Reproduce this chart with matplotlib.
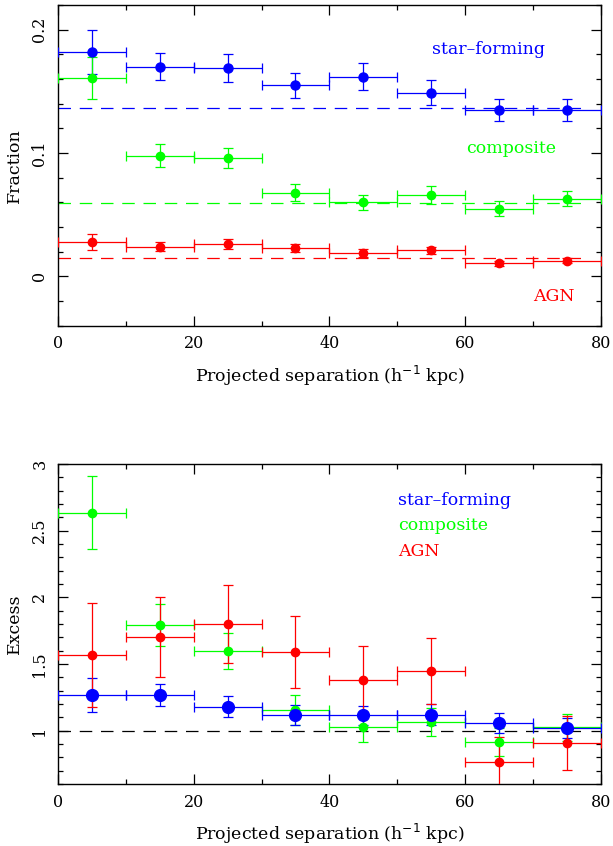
import numpy as np
import matplotlib.pyplot as plt
from matplotlib.ticker import MultipleLocator

plt.rcParams['font.family'] = 'DejaVu Serif'

# projected separation bins (centres, half width)
sep = np.array([5, 15, 25, 35, 45, 55, 65, 75])
sep_err = 5

# fractions
frac_sf = [0.182, 0.170, 0.169, 0.155, 0.162, 0.149, 0.135, 0.135]
frac_sf_err = [0.018, 0.011, 0.011, 0.010, 0.011, 0.010, 0.009, 0.009]
frac_comp = [0.161, 0.098, 0.096, 0.068, 0.060, 0.066, 0.055, 0.063]
frac_comp_err = [0.017, 0.009, 0.008, 0.007, 0.006, 0.007, 0.006, 0.006]
frac_agn = [0.028, 0.024, 0.026, 0.023, 0.019, 0.021, 0.0105, 0.0127]
frac_agn_err = [0.0065, 0.0035, 0.004, 0.0035, 0.003, 0.003, 0.002, 0.002]
# field fractions (dashed lines)
field_sf = 0.1366
field_comp = 0.0597
field_agn = 0.0148

# excess
exc_sf = [1.267, 1.267, 1.18, 1.12, 1.115, 1.12, 1.058, 1.02]
exc_sf_err = [0.125, 0.085, 0.077, 0.075, 0.072, 0.078, 0.075, 0.075]
exc_comp = [2.635, 1.792, 1.597, 1.155, 1.025, 1.065, 0.915, 1.025]
exc_comp_err = [0.275, 0.16, 0.135, 0.115, 0.11, 0.108, 0.105, 0.10]
exc_agn = [1.567, 1.702, 1.80, 1.592, 1.382, 1.447, 0.768, 0.908]
exc_agn_err = [0.39, 0.30, 0.29, 0.27, 0.25, 0.25, 0.185, 0.205]

blue = (0, 0, 1)
green = (0, 1, 0)
red = (1, 0, 0)

fig = plt.figure(figsize=(6.13, 8.46), dpi=100)
ax1 = fig.add_axes([0.0946, 0.615, 0.8854, 0.379])
ax2 = fig.add_axes([0.0946, 0.0733, 0.8854, 0.3782])

def style(ax):
    ax.set_xlim(0, 80)
    ax.xaxis.set_major_locator(MultipleLocator(20))
    ax.xaxis.set_minor_locator(MultipleLocator(10))
    ax.tick_params(which='both', direction='in', top=True, right=True,
                   labelsize=11.5, width=0.9)
    ax.tick_params(which='major', length=7, pad=7)
    ax.tick_params(which='minor', length=3.5)
    for lbl in ax.get_yticklabels():
        lbl.set_rotation(90)
        lbl.set_va('center')
    for s in ax.spines.values():
        s.set_linewidth(1.0)
    ax.set_xlabel('Projected separation (h$^{-1}$ kpc)', fontsize=12.5, labelpad=8)

def pts(ax, y, yerr, col, ms):
    ax.errorbar(sep, y, xerr=sep_err, yerr=yerr, fmt='o', color=col, ms=ms,
                elinewidth=0.9, capsize=3.5, capthick=0.9, zorder=3)

# top panel: fractions
ax1.hlines([field_sf, field_comp, field_agn], 0, 78, colors=[blue, green, red],
           linestyles=(0, (10, 7)), linewidth=0.9)
pts(ax1, frac_sf, frac_sf_err, blue, 6.5)
pts(ax1, frac_comp, frac_comp_err, green, 6)
pts(ax1, frac_agn, frac_agn_err, red, 6)
ax1.set_ylim(-0.04, 0.22)
ax1.yaxis.set_minor_locator(MultipleLocator(0.02))
ax1.set_yticks([0, 0.1, 0.2])
ax1.set_yticklabels(['0', '0.1', '0.2'])
ax1.set_ylabel('Fraction', fontsize=12.5, labelpad=6)
ax1.text(55.2, 0.1838, 'star\u2013forming', color=blue, fontsize=12.5, va='center')
ax1.text(60.2, 0.1036, 'composite', color=green, fontsize=12.5, va='center')
ax1.text(70.0, -0.016, 'AGN', color=red, fontsize=12.5, va='center')
style(ax1)

# bottom panel: excess
ax2.axhline(1, 0, 78 / 80, color='black', linestyle=(0, (10, 7)), linewidth=0.9)
pts(ax2, exc_comp, exc_comp_err, green, 6)
pts(ax2, exc_sf, exc_sf_err, blue, 8.5)
pts(ax2, exc_agn, exc_agn_err, red, 6)
ax2.set_ylim(0.6, 3)
ax2.yaxis.set_minor_locator(MultipleLocator(0.1))
ax2.set_yticks([1, 1.5, 2, 2.5, 3])
ax2.set_yticklabels(['1', '1.5', '2', '2.5', '3'])
ax2.set_ylabel('Excess', fontsize=12.5, labelpad=6)
ax2.text(50.1, 2.73, 'star\u2013forming', color=blue, fontsize=12.5, va='center')
ax2.text(50.1, 2.536, 'composite', color=green, fontsize=12.5, va='center')
ax2.text(50.1, 2.343, 'AGN', color=red, fontsize=12.5, va='center')
style(ax2)

fig.savefig('out.png', dpi=100)
